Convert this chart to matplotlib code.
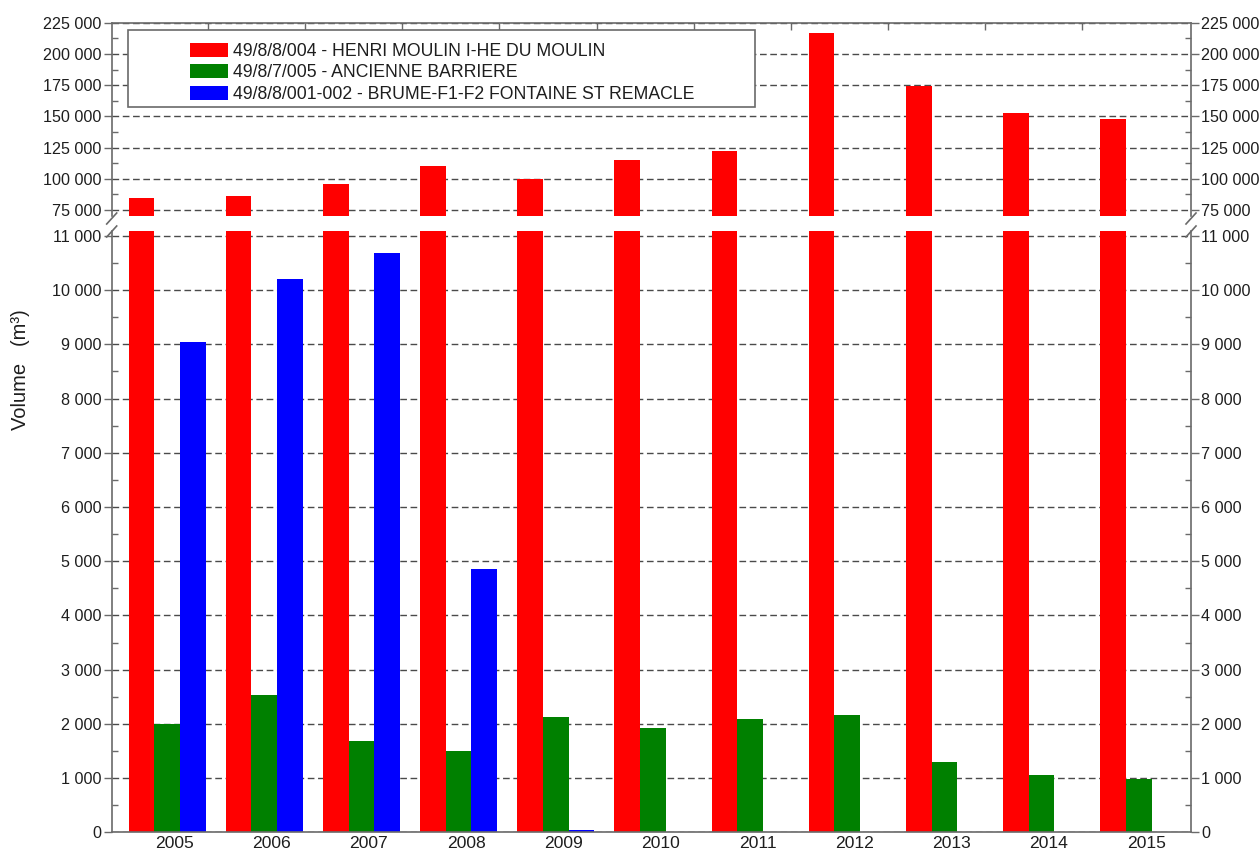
import matplotlib
matplotlib.use("Agg")
import matplotlib.pyplot as plt
import numpy as np
from matplotlib.ticker import FixedLocator, MultipleLocator, FuncFormatter
from matplotlib.patches import Rectangle, Patch
from matplotlib.lines import Line2D

plt.rcParams["font.family"] = ["Liberation Sans", "DejaVu Sans"]

# Annual pumped volumes per catchment (m³)
years = ["2005", "2006", "2007", "2008", "2009", "2010",
         "2011", "2012", "2013", "2014", "2015"]
henri_moulin = [84500, 86000, 96000, 110000, 100000, 115000,
                122500, 216500, 174500, 152500, 147500]
ancienne_barriere = [2000, 2540, 1680, 1500, 2130, 1930,
                     2090, 2170, 1290, 1060, 990]
brume_fontaine = [9040, 10200, 10680, 4850, 50, 0,
                  0, 0, 0, 0, 0]

series_labels = ["49/8/8/004 - HENRI MOULIN I-HE DU MOULIN",
                 "49/8/7/005 - ANCIENNE BARRIERE",
                 "49/8/8/001-002 - BRUME-F1-F2 FONTAINE ST REMACLE"]
series_colors = ["#ff0000", "#008000", "#0000ff"]

W, H = 1259, 850
fig = plt.figure(figsize=(W / 100, H / 100), dpi=100)

left_px, right_px = 111.7, 1191.0
L = left_px / W
Wd = (right_px - left_px) / W
ax_top = fig.add_axes([L, 1 - 216.2 / H, Wd, (216.2 - 22.7) / H])
ax_bot = fig.add_axes([L, 1 - 832.3 / H, Wd, (832.3 - 231.0) / H])

x = np.arange(len(years))
bw = 0.2645
spine_col = "#6a6a6a"
text_col = "#1e1e1e"
grid_kw = dict(color="#4a4a4a", linewidth=1.0, linestyle=(0, (4.8, 2.6)))


def space_thousands(v, pos):
    return f"{int(round(v)):,}".replace(",", " ")


for ax in (ax_top, ax_bot):
    for vals, off, col in zip((henri_moulin, ancienne_barriere, brume_fontaine),
                              (-bw, 0.0, bw), series_colors):
        ax.bar(x + off, vals, width=bw, color=col, linewidth=0, zorder=2)
    ax.set_xlim(-0.571, 10.538)
    ax.set_axisbelow(True)
    ax.yaxis.grid(True, which="major", **grid_kw)
    for s in ax.spines.values():
        s.set_color(spine_col)
        s.set_linewidth(1.2)
    ax.tick_params(axis="y", which="major", direction="out", length=6,
                   width=1.0, color=spine_col, labelsize=11.6,
                   labelcolor=text_col, pad=1.5, left=True, right=True,
                   labelleft=True, labelright=True)
    ax.tick_params(axis="y", which="minor", direction="in", length=4,
                   width=1.0, color=spine_col, left=True, right=True)
    ax.yaxis.set_major_formatter(FuncFormatter(space_thousands))

# upper panel (large volumes)
ax_top.set_ylim(70000, 225000)
ax_top.yaxis.set_major_locator(FixedLocator(np.arange(75000, 225001, 25000)))
ax_top.yaxis.set_minor_locator(FixedLocator(np.arange(87500, 225000, 25000)))
ax_top.spines["bottom"].set_visible(False)
ax_top.xaxis.set_ticks_position("top")
ax_top.set_xticks(x[:-1] + 0.42)
ax_top.tick_params(axis="x", which="major", direction="in", length=5,
                   width=1.0, color=spine_col, labeltop=False,
                   labelbottom=False)

# lower panel (small volumes)
ax_bot.set_ylim(0, 11090)
ax_bot.yaxis.set_major_locator(MultipleLocator(1000))
ax_bot.yaxis.set_minor_locator(MultipleLocator(500))
ax_bot.spines["top"].set_visible(False)
ax_bot.set_xticks(x + 0.076)
ax_bot.set_xticklabels(years)
ax_bot.tick_params(axis="x", which="major", length=0, pad=2.5,
                   labelsize=12.6, labelcolor=text_col, top=False)

# axis break marks on both vertical spines
for xs in (left_px, right_px):
    for yc in (218.5, 231.5):
        fig.add_artist(Line2D([(xs - 5) / W, (xs + 5) / W],
                              [1 - (yc + 5.5) / H, 1 - (yc - 5.5) / H],
                              transform=fig.transFigure, color=spine_col,
                              linewidth=1.2))

# legend box
frame = Rectangle((128.3 / W, 1 - 106.7 / H), (755 - 128.3) / W,
                  (106.7 - 30) / H, transform=fig.transFigure,
                  facecolor="white", edgecolor=spine_col, linewidth=1.2,
                  zorder=4.5)
ax_top.add_artist(frame)
frame.set_clip_on(False)
handles = [Patch(facecolor=c, edgecolor="none") for c in series_colors]
leg = ax_top.legend(handles, series_labels, loc="upper left",
                    bbox_to_anchor=(190 / W, 1 - 42.5 / H),
                    bbox_transform=fig.transFigure, frameon=False,
                    fontsize=12.7, borderpad=0, borderaxespad=0,
                    handlelength=2.16, handleheight=0.85,
                    handletextpad=0.28, labelspacing=0.25)
leg.set_zorder(5)
for t in leg.get_texts():
    t.set_color(text_col)

fig.text(21 / W, 1 - 370 / H, "Volume   (m³)", rotation=90, ha="center",
         va="center", fontsize=14.5, color=text_col)

fig.savefig("out.png", dpi=100, facecolor="white")
